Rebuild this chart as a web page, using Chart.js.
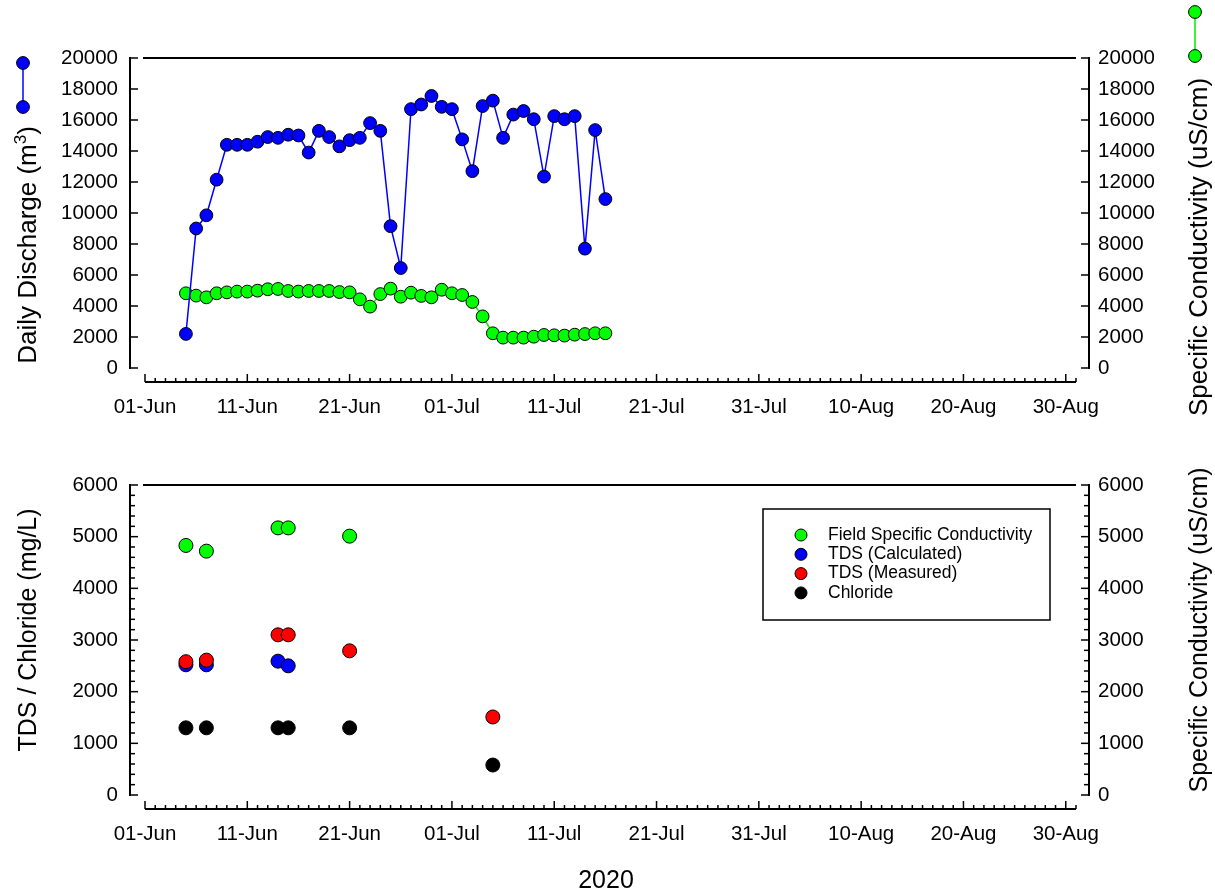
<!DOCTYPE html>
<html>
<head>
<meta charset="utf-8">
<script src="https://cdn.jsdelivr.net/npm/chart.js@4.4.0/dist/chart.umd.min.js"></script>
<style>
  html, body { margin: 0; padding: 0; background: #fff; }
  #wrap { position: relative; width: 1215px; height: 892px; }
  canvas { position: absolute; left: 0; }
  #flowChart { top: 0; }
  #labChart { top: 440px; }
</style>
</head>
<body>
<div id="wrap">
  <canvas id="flowChart" width="1215" height="440"></canvas>
  <canvas id="labChart" width="1215" height="452"></canvas>
</div>
<script>
/*************** data ***************/
const axisStart = '2020-06-01';
const tickLabels = ['01-Jun', '11-Jun', '21-Jun', '01-Jul', '11-Jul', '21-Jul', '31-Jul', '10-Aug', '20-Aug', '30-Aug'];

// daily record, one value per day starting at flowStart
const flowStart = '2020-06-05';
const discharge = [2200, 9000, 9850, 12150, 14400, 14400, 14400, 14600, 14900, 14850,
  15050, 15000, 13900, 15300, 14900, 14300, 14700, 14850, 15800, 15300,
  9150, 6450, 16700, 17000, 17550, 16850, 16700, 14750, 12700, 16900,
  17250, 14850, 16350, 16580, 16050, 12350, 16250, 16050, 16250, 7700,
  15350, 10900];
const conductivity = [4820, 4670, 4560, 4820, 4880, 4930, 4930, 4990, 5080, 5100,
  4970, 4930, 4970, 4970, 4970, 4900, 4880, 4430, 3960, 4770,
  5120, 4600, 4860, 4650, 4560, 5050, 4820, 4710, 4260, 3330,
  2240, 1960, 1960, 1960, 2020, 2130, 2110, 2090, 2150, 2190,
  2240, 2240];

// lab samples
const sampleDates = ['2020-06-05', '2020-06-07', '2020-06-14', '2020-06-15', '2020-06-21', '2020-07-05'];
const fieldSC  = [4830, 4720, 5170, 5170, 5010, null];
const tdsCalc  = [2520, 2520, 2590, 2500, null, null];
const tdsMeas  = [2580, 2610, 3100, 3100, 2790, 1510];
const chloride = [1300, 1300, 1300, 1300, 1300, 580];

/*************** helpers ***************/
const FONT = '"Liberation Sans", Arial, sans-serif';
const dayOf = s => (Date.parse(s) - Date.parse(axisStart)) / 86400000;
const flowX = dayOf(flowStart);
const flowPts = arr => arr.map((v, i) => ({ x: flowX + i, y: v }));
const samplePts = arr => sampleDates.map((d, i) => ({ x: dayOf(d), y: arr[i] })).filter(p => p.y !== null);

// rotated title, parts = [[text, isSuperscript], ...]
function vText(ctx, parts, x, y, size) {
  const big = size + 'px ' + FONT, small = '17px ' + FONT;
  ctx.save();
  ctx.translate(x, y);
  ctx.rotate(-Math.PI / 2);
  ctx.textAlign = 'left';
  ctx.textBaseline = 'alphabetic';
  let total = 0;
  parts.forEach(p => { ctx.font = p[1] ? small : big; total += ctx.measureText(p[0]).width; });
  let cx = -total / 2;
  parts.forEach(p => {
    ctx.font = p[1] ? small : big;
    ctx.fillText(p[0], cx, p[1] ? -10 : 0);
    cx += ctx.measureText(p[0]).width;
  });
  ctx.restore();
}
function dot(ctx, x, y, r, fill) {
  ctx.beginPath();
  ctx.arc(x, y, r, 0, Math.PI * 2);
  ctx.fillStyle = fill;
  ctx.fill();
  ctx.lineWidth = 1;
  ctx.strokeStyle = '#000';
  ctx.stroke();
}

// SigmaPlot-like offset axes, drawn from the chart's own scales
const sigmaAxes = {
  id: 'sigmaAxes',
  afterDraw(chart, args, o) {
    const ctx = chart.ctx, a = chart.chartArea;
    const sx = chart.scales.x, yl = chart.scales.yL, yr = chart.scales.yR;
    const seg = (x1, y1, x2, y2) => { ctx.beginPath(); ctx.moveTo(x1, y1); ctx.lineTo(x2, y2); ctx.stroke(); };
    ctx.save();
    ctx.strokeStyle = '#000';
    ctx.lineWidth = 2;

    seg(a.left - 2, a.top, a.right, a.top);

    const lx = a.left - 15, rx = a.right + 13;
    seg(lx, a.top - 1, lx, a.bottom + 1);
    seg(rx, a.top - 1, rx, a.bottom + 1);
    ctx.lineWidth = 1.5;
    const n = Math.round((yl.max - yl.min) / o.minorStep);
    for (let i = 0; i <= n; i++) {
      const v = yl.min + i * o.minorStep;
      const len = (v % o.majorStep === 0) ? 8 : 5;
      let py = yl.getPixelForValue(v);
      seg(lx, py, lx + len, py);
      py = yr.getPixelForValue(v);
      seg(rx, py, rx - len, py);
    }

    const by = a.bottom + 14;
    ctx.lineWidth = 2;
    seg(a.left, by, a.right, by);
    ctx.lineWidth = 1.5;
    sx.ticks.forEach(t => {
      const px = sx.getPixelForValue(t.value);
      seg(px, by, px, by - (t.value % 10 === 0 ? 8 : 4));
    });

    ctx.fillStyle = '#000';
    vText(ctx, o.leftTitle, o.leftPos[0], o.leftPos[1], o.titleSize);
    vText(ctx, o.rightTitle, o.rightPos[0], o.rightPos[1], o.titleSize);
    if (o.footer) {
      ctx.font = '25px ' + FONT;
      ctx.textAlign = 'center';
      ctx.textBaseline = 'alphabetic';
      ctx.fillText(o.footer, o.footerPos[0], o.footerPos[1]);
    }
    if (o.extra) o.extra(chart);
    ctx.restore();
  }
};

function baseScales(yMax, yStep) {
  const tickFont = { family: FONT, size: 20.5 };
  return {
    x: {
      type: 'linear', min: 0, max: 91,
      grid: { display: false }, border: { display: false },
      afterFit: s => { s.height = s.chart.height - s.chart.options.plugins.sigmaAxes.bottom; },
      ticks: {
        stepSize: 1, autoSkip: false, maxRotation: 0, minRotation: 0, padding: 19,
        color: '#000', font: tickFont,
        callback: v => (v % 10 === 0 ? tickLabels[v / 10] : '')
      }
    },
    yL: {
      position: 'left', min: 0, max: yMax,
      grid: { display: false }, border: { display: false },
      afterFit: s => { s.width = 145; },
      ticks: { stepSize: yStep, padding: 19, color: '#000', font: tickFont, callback: v => String(v) }
    },
    yR: {
      position: 'right', min: 0, max: yMax,
      grid: { display: false }, border: { display: false },
      afterFit: s => { s.width = 139; },
      ticks: { stepSize: yStep, padding: 14, color: '#000', font: tickFont, callback: v => String(v) }
    }
  };
}

/*************** top chart: daily discharge + conductivity ***************/
new Chart(document.getElementById('flowChart'), {
  type: 'scatter',
  data: {
    datasets: [
      {
        label: 'Daily Discharge',
        data: flowPts(discharge),
        yAxisID: 'yL',
        showLine: true,
        borderColor: '#0000ff',
        borderWidth: 1.5,
        pointBackgroundColor: '#0000ff',
        pointBorderColor: '#000',
        pointBorderWidth: 1,
        pointRadius: 6.4,
        order: 0
      },
      {
        label: 'Specific Conductivity',
        data: flowPts(conductivity),
        yAxisID: 'yR',
        showLine: true,
        borderColor: '#00ee00',
        borderWidth: 1.5,
        pointBackgroundColor: '#00ff00',
        pointBorderColor: '#000',
        pointBorderWidth: 1,
        pointRadius: 6.4,
        order: 1
      }
    ]
  },
  options: {
    responsive: false,
    animation: false,
    devicePixelRatio: 1,
    layout: { padding: { top: 58, left: 0, right: 0, bottom: 0 } },
    scales: baseScales(20000, 2000),
    plugins: {
      legend: { display: false },
      tooltip: { enabled: false },
      sigmaAxes: {
        bottom: 368,
        minorStep: 2000, majorStep: 2000,
        titleSize: 26,
        leftTitle: [['Daily Discharge (m', false], ['3', true], [')', false]], leftPos: [36, 245],
        rightTitle: [['Specific Conductivity (uS/cm)', false]], rightPos: [1207, 247],
        extra: chart => {
          const ctx = chart.ctx;
          const sym = (x, y1, y2, ds) => {
            ctx.strokeStyle = ds.borderColor; ctx.lineWidth = 1.5;
            ctx.beginPath(); ctx.moveTo(x, y1); ctx.lineTo(x, y2); ctx.stroke();
            dot(ctx, x, y1, 6.4, ds.pointBackgroundColor);
            dot(ctx, x, y2, 6.4, ds.pointBackgroundColor);
          };
          sym(23, 63, 107, chart.data.datasets[0]);
          sym(1195, 12, 56, chart.data.datasets[1]);
        }
      }
    }
  },
  plugins: [sigmaAxes]
});

/*************** bottom chart: lab results ***************/
const labSets = [
  { label: 'Field Specific Conductivity', data: samplePts(fieldSC), yAxisID: 'yR', pointBackgroundColor: '#00ff00', order: 4 },
  { label: 'TDS (Calculated)', data: samplePts(tdsCalc), yAxisID: 'yL', pointBackgroundColor: '#0000ff', order: 3 },
  { label: 'TDS (Measured)', data: samplePts(tdsMeas), yAxisID: 'yL', pointBackgroundColor: '#ff0000', order: 2 },
  { label: 'Chloride', data: samplePts(chloride), yAxisID: 'yL', pointBackgroundColor: '#000000', order: 1 }
];
labSets.forEach(d => { d.pointBorderColor = '#000'; d.pointBorderWidth = 1; d.pointRadius = 7; });

new Chart(document.getElementById('labChart'), {
  type: 'scatter',
  data: { datasets: labSets },
  options: {
    responsive: false,
    animation: false,
    devicePixelRatio: 1,
    layout: { padding: { top: 45, left: 0, right: 0, bottom: 0 } },
    scales: baseScales(6000, 1000),
    plugins: {
      legend: { display: false },
      tooltip: { enabled: false },
      sigmaAxes: {
        bottom: 355,
        minorStep: 200, majorStep: 1000,
        titleSize: 25,
        leftTitle: [['TDS / Chloride (mg/L)', false]], leftPos: [36, 630 - 440],
        rightTitle: [['Specific Conductivity (uS/cm)', false]], rightPos: [1207, 630 - 440],
        footer: '2020', footerPos: [606, 448],
        extra: chart => {
          const ctx = chart.ctx;
          ctx.strokeStyle = '#000'; ctx.lineWidth = 1.5;
          ctx.strokeRect(763, 69, 287, 111);
          ctx.font = '17.5px ' + FONT;
          ctx.textAlign = 'left'; ctx.textBaseline = 'middle';
          chart.data.datasets.forEach((ds, i) => {
            const y = 95 + i * 19.3;
            dot(ctx, 801, y, 6, ds.pointBackgroundColor);
            ctx.fillStyle = '#000';
            ctx.fillText(ds.label, 828, y);
          });
        }
      }
    }
  },
  plugins: [sigmaAxes]
});
</script>
</body>
</html>
